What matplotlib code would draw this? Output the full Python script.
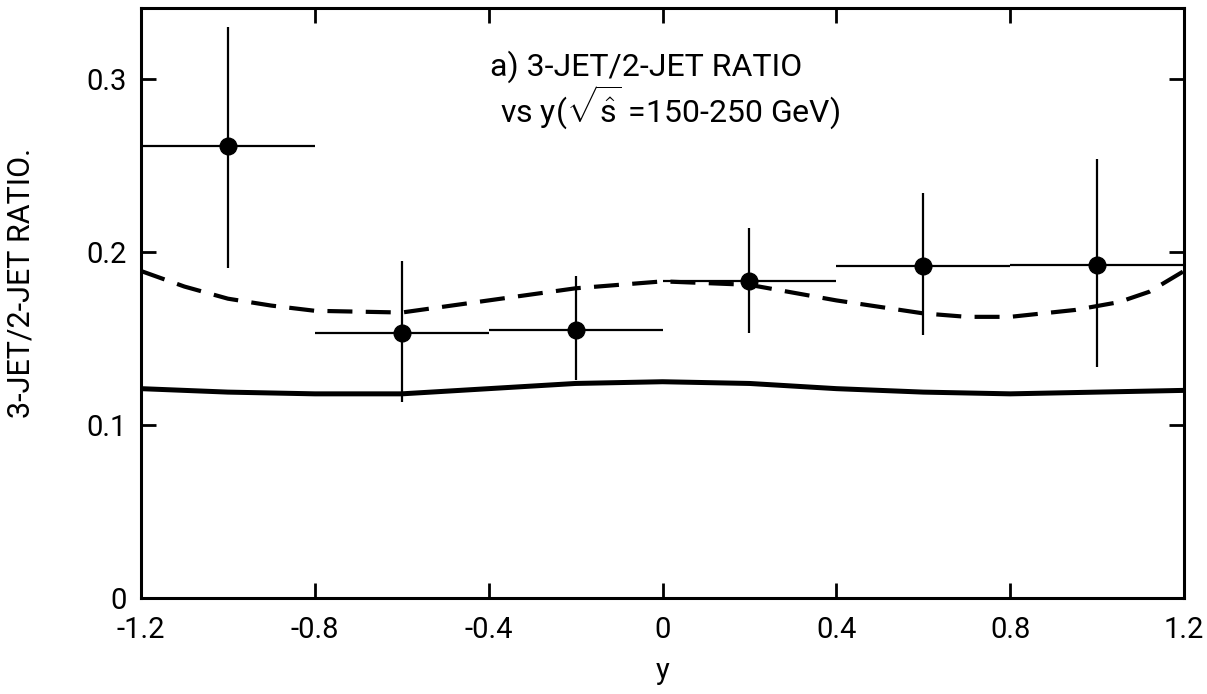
import matplotlib.pyplot as plt

# data
y_bin = [-1.0, -0.6, -0.2, 0.2, 0.6, 1.0]
ratio = [0.261, 0.153, 0.155, 0.183, 0.192, 0.1925]
ratio_hi = [0.330, 0.195, 0.186, 0.214, 0.234, 0.254]
ratio_lo = [0.191, 0.113, 0.126, 0.153, 0.152, 0.1335]
bin_half = [0.2, 0.2, 0.2, 0.2, 0.2, 0.2]

# solid curve
solid_x = [-1.2, -1.0, -0.8, -0.6, -0.4, -0.2, 0.0, 0.2, 0.4, 0.6, 0.8, 1.0, 1.2]
solid_y = [0.121, 0.119, 0.118, 0.118, 0.121, 0.124, 0.125, 0.124, 0.121, 0.119, 0.118, 0.119, 0.120]

# dashed curve
dash_x = [-1.2, -1.1, -1.0, -0.9, -0.8, -0.6, -0.4, -0.2, 0.0, 0.2, 0.4, 0.6, 0.7, 0.8, 0.95, 1.05, 1.12, 1.2]
dash_y = [0.189, 0.180, 0.173, 0.169, 0.166, 0.165, 0.172, 0.179, 0.183, 0.181, 0.172, 0.1645, 0.1625, 0.1625, 0.1665, 0.171, 0.177, 0.189]

xticks = [-1.2, -0.8, -0.4, 0, 0.4, 0.8, 1.2]
xtick_labels = ['-1.2', '-0.8', '-0.4', '0', '0.4', '0.8', '1.2']
yticks = [0, 0.1, 0.2, 0.3]
ytick_labels = ['0', '0.1', '0.2', '0.3']

plt.rcParams['font.family'] = ['Roboto', 'DejaVu Sans']
plt.rcParams['mathtext.fontset'] = 'custom'
plt.rcParams['mathtext.rm'] = 'Roboto'
plt.rcParams['mathtext.it'] = 'Roboto'

fig = plt.figure(figsize=(12.07, 6.94), dpi=100)
ax = fig.add_axes([0.1168, 0.1383, 0.8642, 0.8502])

ax.plot(solid_x, solid_y, color='black', lw=3.6, solid_capstyle='butt')
ax.plot(dash_x, dash_y, color='black', lw=3.0, dashes=(6, 3.2))

yerr = [[r - lo for r, lo in zip(ratio, ratio_lo)],
        [hi - r for r, hi in zip(ratio, ratio_hi)]]
ax.errorbar(y_bin, ratio, xerr=bin_half, yerr=yerr, fmt='o', color='black',
            markersize=12, elinewidth=1.6, capsize=0, zorder=5)

ax.set_xlim(-1.2, 1.2)
ax.set_ylim(0, 0.341)
ax.set_xticks(xticks)
ax.set_xticklabels(xtick_labels)
ax.set_yticks(yticks)
ax.set_yticklabels(ytick_labels)
ax.tick_params(direction='in', length=11, width=2, labelsize=21,
               top=True, right=True)
ax.tick_params(axis='x', pad=13)
ax.tick_params(axis='y', pad=10)
for s in ax.spines.values():
    s.set_linewidth(2.2)

ax.set_xlabel('y', fontsize=21, labelpad=9)
ax.set_ylabel('3-JET/2-JET RATIO.', fontsize=22)
ax.yaxis.set_label_coords(-0.101, 0.534)

ax.text(-0.397, 0.307, 'a) 3-JET/2-JET RATIO', fontsize=23,
        va='center', ha='left')
ax.text(-0.374, 0.2835, r'vs y($\sqrt{\hat{\mathrm{s}}}$ =150-250 GeV)', fontsize=23,
        va='center', ha='left')

fig.savefig('out.png', dpi=100)
